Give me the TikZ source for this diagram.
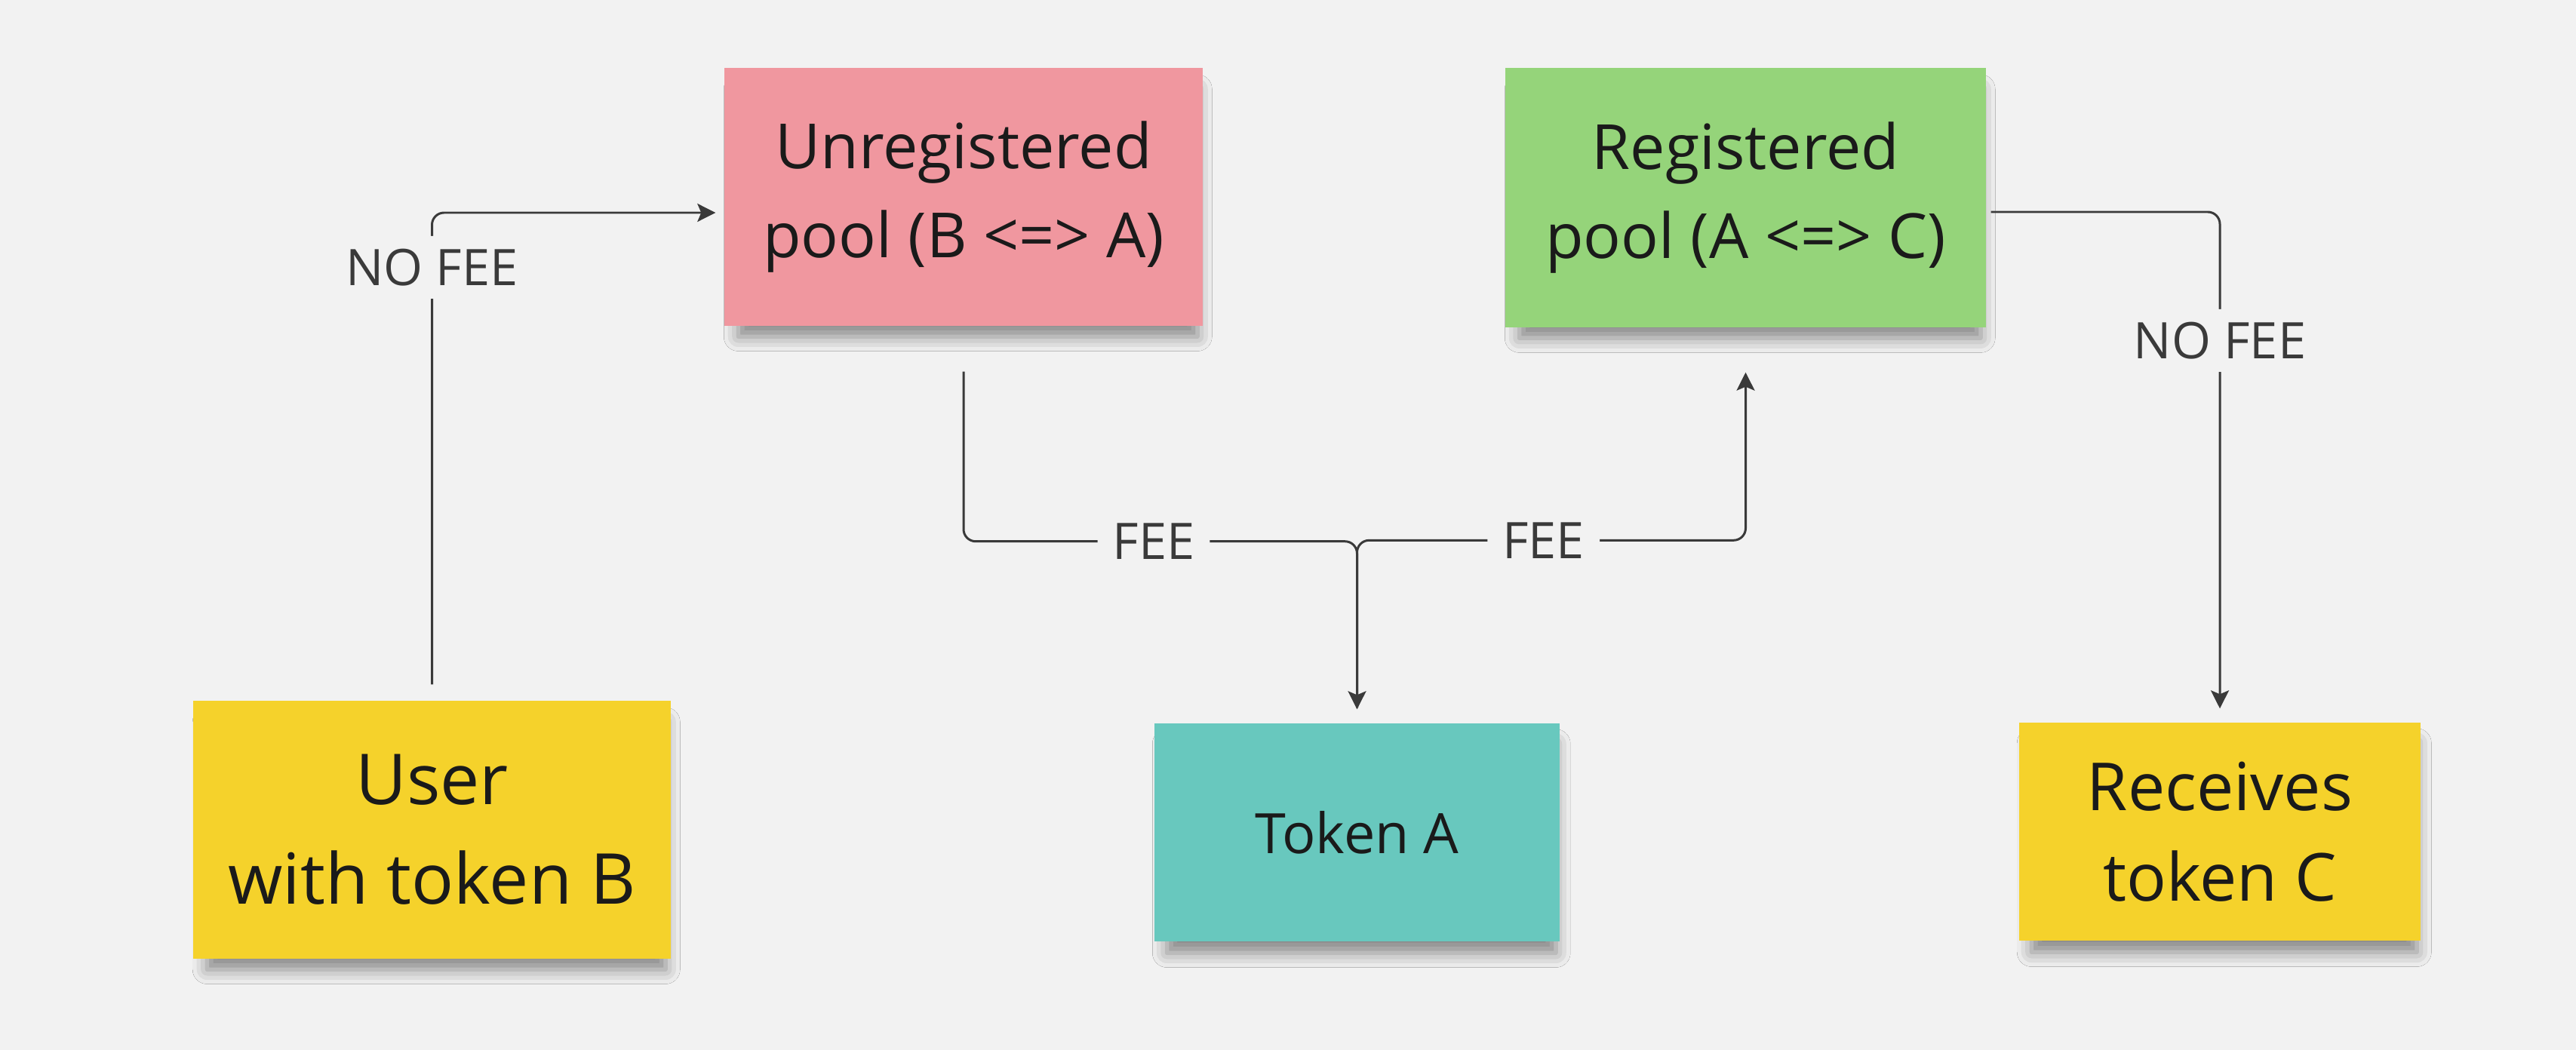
\documentclass[tikz,border=0pt]{standalone}
\usepackage{fontspec}
\setmainfont{Open Sans}
\usetikzlibrary{arrows.meta,shadows.blur,calc}
\definecolor{bg}{HTML}{F2F2F2}
\definecolor{pinkc}{HTML}{F0979F}
\definecolor{greenc}{HTML}{95D47A}
\definecolor{tealc}{HTML}{68C8BE}
\definecolor{yellowc}{HTML}{F5D22B}
\definecolor{textc}{HTML}{1A1A1A}
\definecolor{linec}{HTML}{3A3A3A}
\tikzset{
  note/.style={rectangle, inner sep=0pt, align=center, text=textc,
    blur shadow={shadow xshift=0.06cm, shadow yshift=-0.22cm, shadow opacity=45,
      shadow scale=0.96, shadow blur radius=0.2cm}},
  conn/.style={draw=linec, line width=0.85pt, rounded corners=0.16cm,
    -{Stealth[length=0.24cm,width=0.24cm,inset=0.05cm]}},
  lbl/.style={fill=bg, text=linec, font=\fontsize{19}{22}\selectfont,
    inner xsep=0.2cm, inner ysep=0.17cm}
}
\begin{document}
\begin{tikzpicture}[x=1cm,y=1cm]
\fill[bg] (0,0) rectangle (34.14,-13.92);
\useasboundingbox (0,0) rectangle (34.14,-13.92);

\node[note, fill=pinkc, minimum width=6.34cm, minimum height=3.42cm,
  font=\fontsize{23.5}{33.5}\selectfont] (unreg) at (12.77,-2.61)
  {Unregistered\\pool (B <=> A)};
\node[note, fill=greenc, minimum width=6.37cm, minimum height=3.44cm,
  font=\fontsize{23.5}{33.5}\selectfont] (reg) at (23.135,-2.62)
  {Registered\\pool (A <=> C)};
\node[note, fill=yellowc, minimum width=6.33cm, minimum height=3.42cm,
  font=\fontsize{26.5}{37.5}\selectfont] (user) at (5.725,-11.0)
  {User\\with token B};
\node[note, fill=tealc, minimum width=5.37cm, minimum height=2.89cm,
  font=\fontsize{21}{25}\selectfont] (toka) at (17.985,-11.035)
  {Token A};
\node[note, fill=yellowc, minimum width=5.32cm, minimum height=2.89cm,
  font=\fontsize{25}{34}\selectfont] (recv) at (29.42,-11.025)
  {Receives\\token C};

\draw[conn, shorten <=0.21cm, shorten >=0.11cm]
  (user.north) |- node[lbl, pos=0.444] {NO FEE} ([yshift=-0.21cm]unreg.west);
\draw[conn, shorten <=0.6cm, shorten >=0.18cm]
  (unreg.south) -- ++(0,-2.85) -| node[lbl, pos=0.2416] {FEE} (toka.north);
\draw[conn, shorten <=0.2cm, shorten >=0.59cm]
  (toka.north) -- ++(0,2.42) -| node[lbl, pos=0.240] {FEE} (reg.south);
\draw[conn, shorten <=0.06cm, shorten >=0.18cm]
  ([yshift=-0.19cm]reg.east) -| node[lbl, pos=0.626] {NO FEE} (recv.north);
\end{tikzpicture}
\end{document}
